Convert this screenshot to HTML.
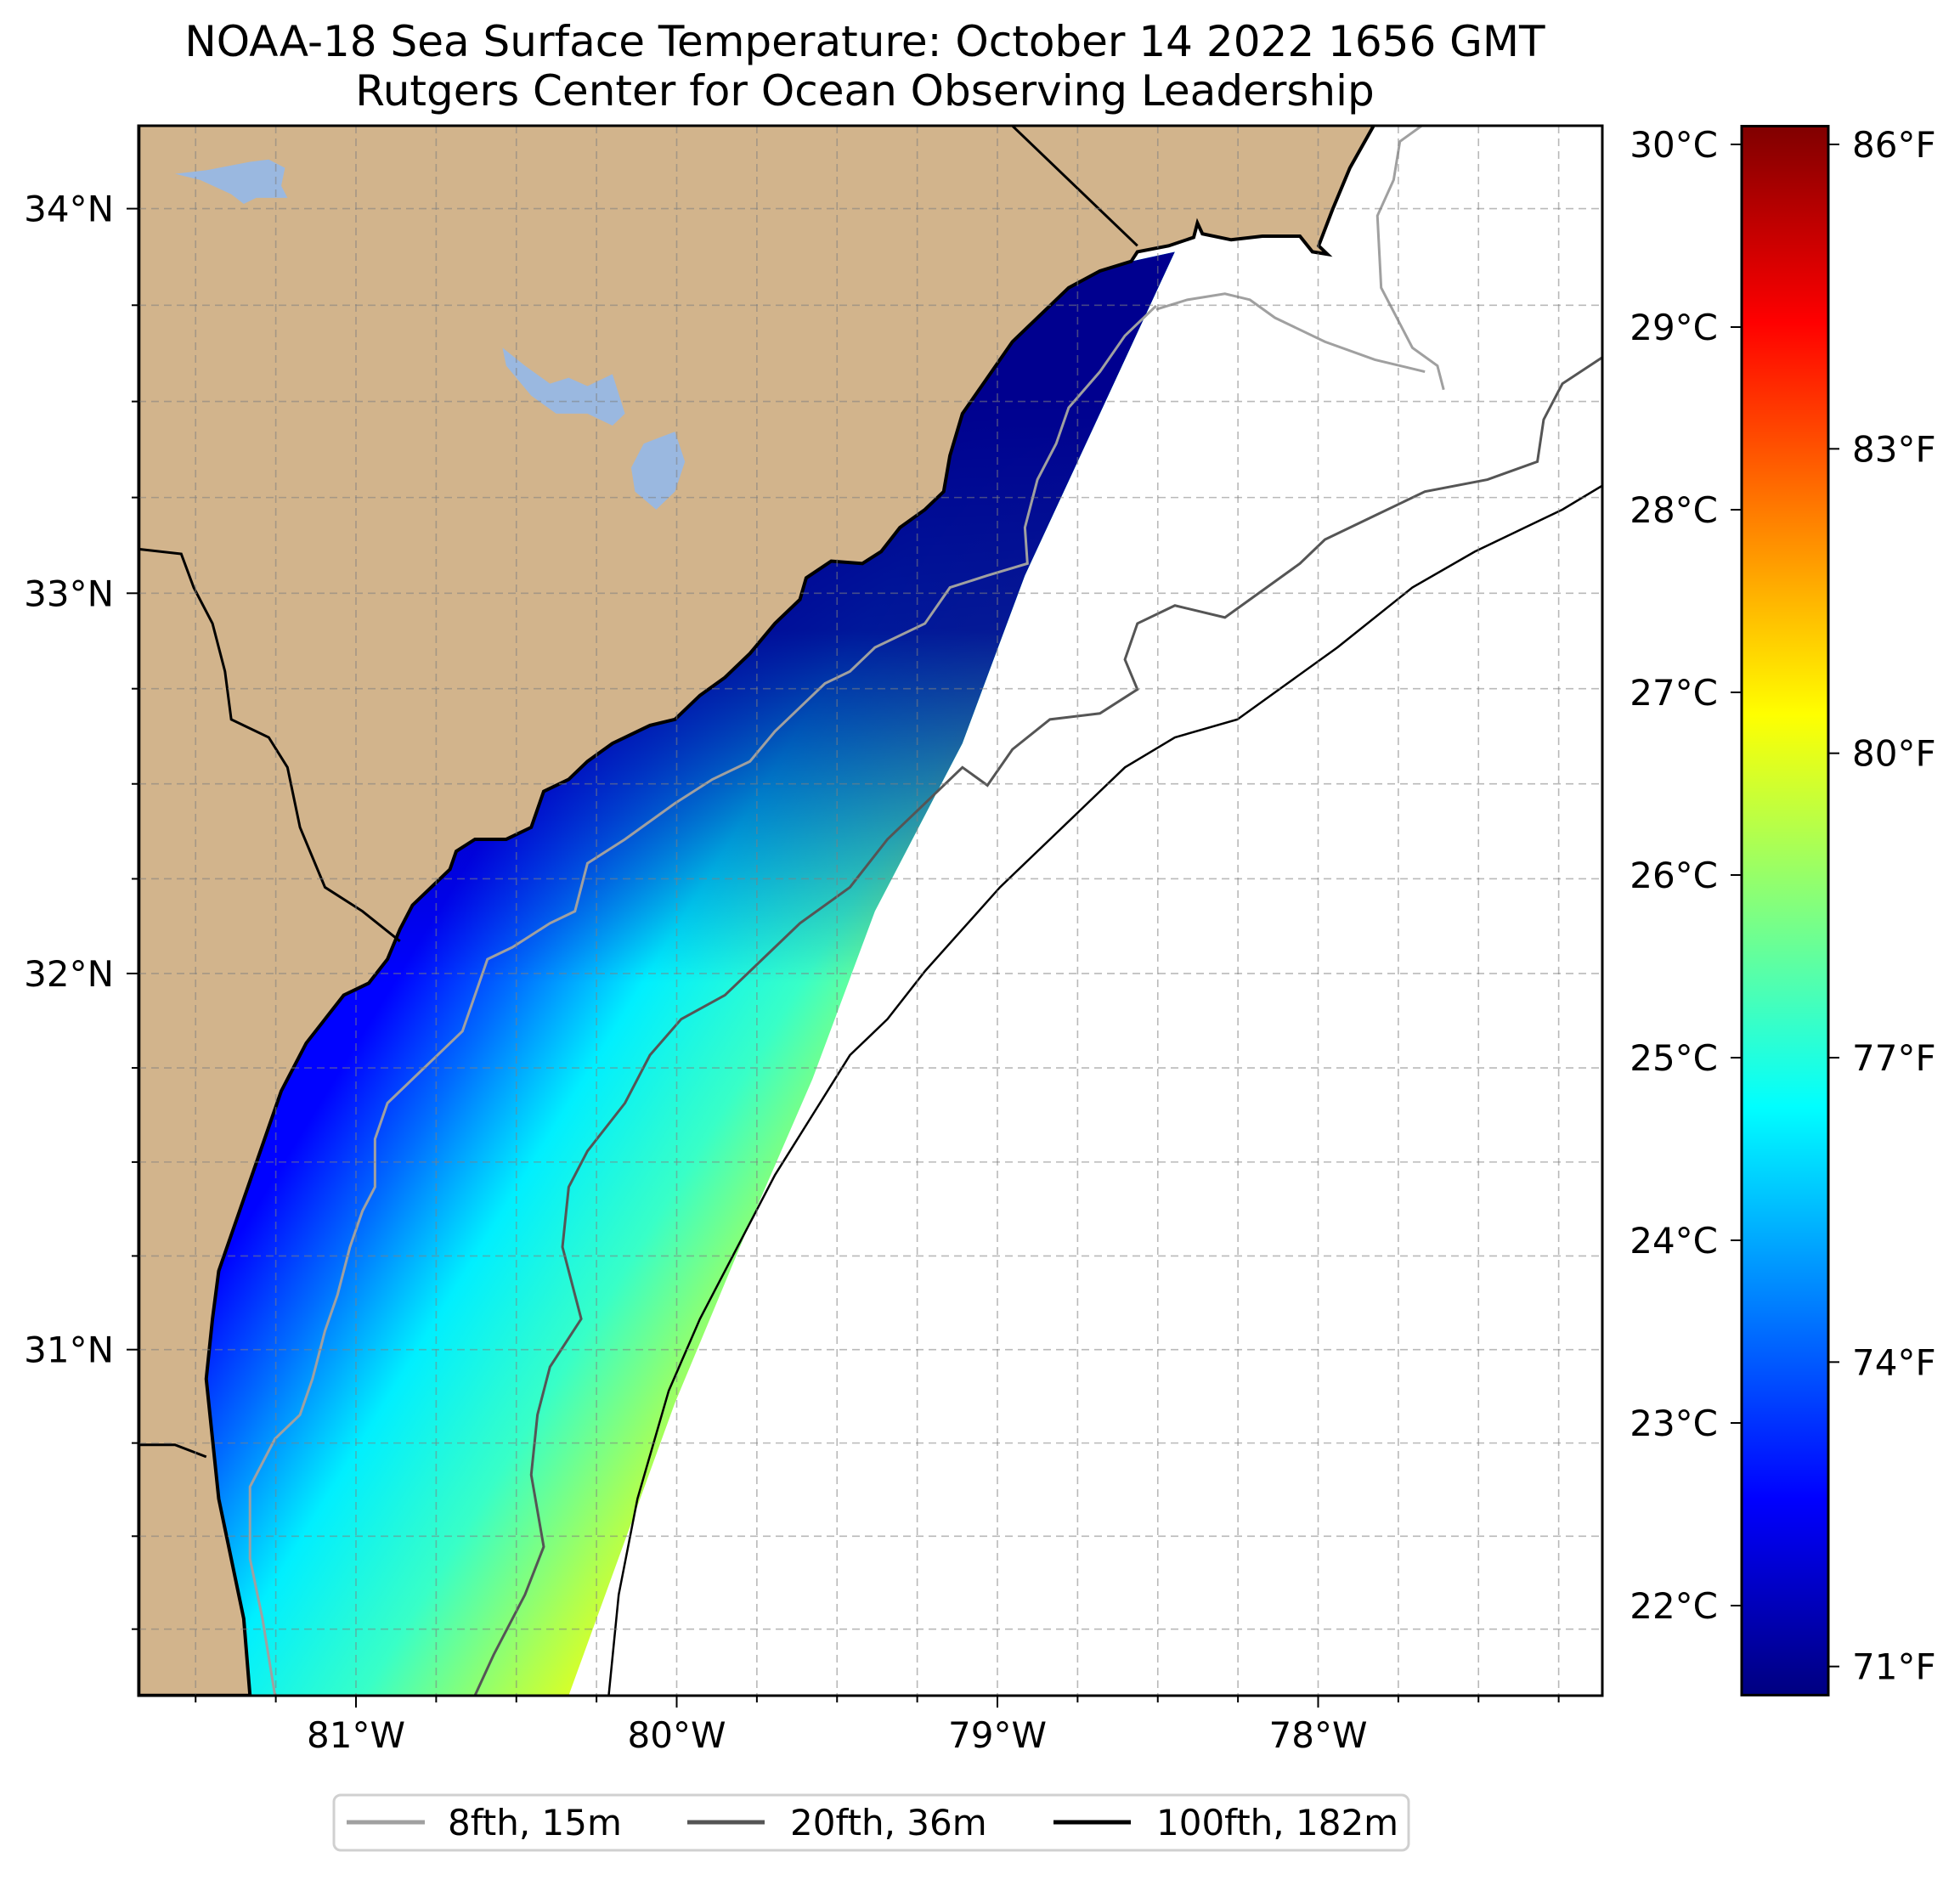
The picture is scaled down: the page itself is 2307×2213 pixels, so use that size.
<!DOCTYPE html>
<html><head><meta charset="utf-8"><style>
html,body{margin:0;padding:0;background:#fff;}
svg{display:block;font-family:"DejaVu Sans","Liberation Sans",sans-serif;}
</style></head><body>
<svg id="fig" width="2307" height="2213" viewBox="0 0 2307 2213" xmlns="http://www.w3.org/2000/svg">
<defs>
<clipPath id="axclip"><rect x="163" y="148" width="1723" height="1848"/></clipPath>
<linearGradient id="cbgrad" x1="0" y1="1" x2="0" y2="0"></linearGradient>
<linearGradient id="across" gradientUnits="userSpaceOnUse" x1="250" y1="930" x2="640" y2="1160"></linearGradient>
<linearGradient id="north" gradientUnits="userSpaceOnUse" x1="0" y1="330" x2="0" y2="820">
<stop offset="0" stop-color="#00008f" stop-opacity="1"/>
<stop offset="0.4" stop-color="#00008f" stop-opacity="0.9"/>
<stop offset="1" stop-color="#00008f" stop-opacity="0"/>
</linearGradient>
</defs>
<g id="title">
<text x="1018" y="66" font-size="50" text-anchor="middle">NOAA-18 Sea Surface Temperature: October 14 2022 1656 GMT</text>
<text x="1018" y="124" font-size="50" text-anchor="middle">Rutgers Center for Ocean Observing Leadership</text>
</g>
<g clip-path="url(#axclip)">
<g id="mapdisp" transform="scale(1.4712,1.4114)"></g>
<g id="grid"></g>
</g>
<rect x="163" y="148" width="1723" height="1848" fill="none" stroke="#000" stroke-width="3"/>
<g id="axes"></g>
<g id="cbar"></g>
<g id="legend">
<rect x="393" y="2113" width="1265" height="65" rx="8" fill="#fff" stroke="#d0d0d0" stroke-width="3"/>
<line x1="408" y1="2145" x2="500" y2="2145" stroke="#a0a0a0" stroke-width="5"/>
<text x="527" y="2160" font-size="42">8fth, 15m</text>
<line x1="809" y1="2145" x2="900" y2="2145" stroke="#555" stroke-width="5"/>
<text x="930" y="2160" font-size="42">20fth, 36m</text>
<line x1="1240" y1="2145" x2="1331" y2="2145" stroke="#000" stroke-width="5"/>
<text x="1361" y="2160" font-size="42">100fth, 182m</text>
</g>
</svg>
<script>
// ---- data ----
const lonTicks = [-81, -80, -79, -78];
const lonTickLabels = ["81°W", "80°W", "79°W", "78°W"];
const latTicks = [31, 32, 33, 34];
const latTickLabels = ["31°N", "32°N", "33°N", "34°N"];
const cTicks = [22, 23, 24, 25, 26, 27, 28, 29, 30];
const fTicks = [71, 74, 77, 80, 83, 86];
const tempMin = 21.51, tempMax = 30.1;
const sstStops = [0, 0.18, 0.38, 0.62, 0.85, 1];
const sstValues = [22.6, 23.5, 24.6, 25.2, 26.2, 26.8];

// ---- map geometry (display units) ----
const landPoly = [[111,103],[1100,103],[1080,140],[1066,175],[1055,205],[1062,212],[1050,210],[1040,197],[1010,197],[985,200],[962,195],[958,186],[955,198],[935,205],[910,210],[905,218],[880,226],[855,240],[830,265],[810,285],[790,315],[770,345],[760,380],[755,410],[740,425],[720,440],[705,460],[690,470],[665,468],[645,482],[640,500],[620,520],[600,545],[580,565],[560,580],[540,600],[520,605],[490,620],[470,635],[455,650],[435,660],[425,690],[405,700],[380,700],[365,710],[360,725],[345,740],[330,755],[320,775],[310,800],[295,820],[275,830],[260,850],[245,870],[235,890],[225,910],[215,940],[205,970],[195,1000],[185,1030],[175,1060],[170,1100],[165,1150],[170,1200],[175,1250],[185,1300],[195,1350],[200,1414],[111,1414]];
const swathEdge = [[200,1414],[455,1414],[540,1170],[600,1020],[650,900],[700,760],[770,620],[820,480],[860,390],[940,210],[905,218]];
const lakes = [
 [[140,145],[165,142],[185,138],[200,135],[215,133],[228,140],[225,155],[230,165],[205,165],[195,170],[185,162],[160,150]],
 [[402,290],[420,305],[440,320],[455,315],[470,322],[490,312],[500,345],[490,355],[470,345],[445,345],[425,330],[405,305]],
 [[515,370],[540,360],[548,385],[540,410],[525,425],[508,410],[505,390]]
];
const stateBorders = [
 [[808,103],[910,205]],
 [[111,458],[145,462],[155,490],[170,520],[180,560],[185,600],[215,615],[230,640],[240,690],[260,740],[290,760],[320,785]],
 [[111,1205],[140,1205],[165,1215]]
];
const iso8 = [
 [[1140,103],[1120,118],[1115,150],[1102,180],[1105,240],[1130,290],[1150,305],[1155,325]],
 [[925,258],[950,250],[980,245],[1000,250],[1020,265],[1060,285],[1100,300],[1140,310]],
 [[925,255],[900,280],[880,310],[855,340],[845,370],[830,400],[820,440],[822,470],[790,480],[760,490],[740,520],[700,540],[680,560],[660,570],[640,590],[620,610],[600,635],[570,650],[540,670],[500,700],[470,720],[460,760],[440,770],[410,790],[390,800],[380,830],[370,860],[350,880],[330,900],[310,920],[300,950],[300,990],[290,1010],[280,1040],[270,1080],[260,1110],[250,1150],[240,1180],[220,1200],[200,1240],[200,1300],[210,1350],[220,1414]]
];
const iso20 = [[1282,298],[1250,320],[1235,350],[1230,385],[1190,400],[1140,410],[1100,430],[1060,450],[1040,470],[980,515],[940,505],[910,520],[900,550],[910,575],[880,595],[840,600],[810,625],[790,655],[770,640],[750,660],[710,700],[680,740],[640,770],[610,800],[580,830],[545,850],[520,880],[500,920],[470,960],[455,990],[450,1040],[465,1100],[440,1140],[430,1180],[425,1230],[435,1290],[420,1330],[395,1380],[380,1414]];
const iso100 = [[1282,405],[1250,425],[1220,440],[1180,460],[1130,490],[1070,540],[1030,570],[990,600],[940,615],[900,640],[870,670],[840,700],[800,740],[770,775],[740,810],[710,850],[680,880],[650,930],[620,980],[590,1040],[560,1100],[535,1160],[510,1250],[495,1330],[487,1414]];

// ---- scales ----
function X(lon){ return 419 + (lon + 81) * 377.5; }
function M(lat){ return Math.log(Math.tan(Math.PI/4 + lat*Math.PI/360)) * 180/Math.PI; }
function Y(lat){ return 245.6 - 377.5 * (M(lat) - M(34)); }
function Yc(t){ return 170 + (30 - t) * 215; }
function jet(v){
  const c = x => Math.max(0, Math.min(1, x));
  const r = c(1.5 - Math.abs(4*v - 3)), g = c(1.5 - Math.abs(4*v - 2)), b = c(1.5 - Math.abs(4*v - 1));
  return `rgb(${Math.round(r*255)},${Math.round(g*255)},${Math.round(b*255)})`;
}
function tcol(t){ return jet((t - tempMin)/(tempMax - tempMin)); }

const NS = "http://www.w3.org/2000/svg";
function mk(tag, attrs, parent){ const e = document.createElementNS(NS, tag); for (const k in attrs) e.setAttribute(k, attrs[k]); parent.appendChild(e); return e; }
const pts = a => a.map(p => p.join(",")).join(" ");

const cbg = document.getElementById("cbgrad");
for (let i = 0; i <= 40; i++){ mk("stop", {offset: i/40, "stop-color": jet(i/40)}, cbg); }
const acr = document.getElementById("across");
sstStops.forEach((o, i) => mk("stop", {offset: o, "stop-color": tcol(sstValues[i])}, acr));

const md = document.getElementById("mapdisp");
const coastPart = landPoly.slice(landPoly.findIndex(p => p[0]===880 && p[1]===226), landPoly.length - 1);
const swathPts = coastPart.concat(swathEdge.slice(1));
let sw = mk("polygon", {points: pts(swathPts), fill: "url(#across)"}, md);


const cp = mk("clipPath", {id: "swclip"}, md);
mk("polygon", {points: pts(swathPts)}, cp);
let nb = mk("polygon", {points: pts(swathPts), fill: "url(#north)", "clip-path": "url(#swclip)"}, md);



let land = mk("polygon", {points: pts(landPoly), fill: "#d2b48c", stroke: "#000", "stroke-width": 4, "vector-effect": "non-scaling-stroke"}, md);


lakes.forEach(l => { let e = mk("polygon", {points: pts(l), fill: "#9ab8e0"}, md);
  
   });
stateBorders.forEach(b => { let e = mk("polyline", {points: pts(b), fill: "none", stroke: "#000", "stroke-width": 3, "vector-effect": "non-scaling-stroke"}, md);
  
   });
iso8.forEach(c => { let e = mk("polyline", {points: pts(c), fill: "none", stroke: "#a0a0a0", "stroke-width": 3, "vector-effect": "non-scaling-stroke"}, md);
  
   });
let i20 = mk("polyline", {points: pts(iso20), fill: "none", stroke: "#555", "stroke-width": 3, "vector-effect": "non-scaling-stroke"}, md);


let i100 = mk("polyline", {points: pts(iso100), fill: "none", stroke: "#000", "stroke-width": 2.5, "vector-effect": "non-scaling-stroke"}, md);



const grid = document.getElementById("grid");
for (let lon = -81.5; lon <= -77.2; lon += 0.25){
  let e = mk("line", {x1: X(lon), x2: X(lon), y1: 148, y2: 1996, stroke: "#808080", "stroke-opacity": 0.55, "stroke-width": 1.6, "stroke-dasharray": "9,6"}, grid);
  
  
}
for (let lat = 30.25; lat <= 34.2; lat += 0.25){
  let e = mk("line", {x1: 163, x2: 1886, y1: Y(lat), y2: Y(lat), stroke: "#808080", "stroke-opacity": 0.55, "stroke-width": 1.6, "stroke-dasharray": "9,6"}, grid);
  
  
}

const ax = document.getElementById("axes");
for (let lon = -81.5; lon <= -77.2; lon += 0.25){
  const major = Math.abs(lon - Math.round(lon)) < 1e-6;
  mk("line", {x1: X(lon), x2: X(lon), y1: 1996, y2: 1996 + (major ? 14 : 8), stroke: "#000", "stroke-width": 2}, ax);
}
lonTicks.forEach((lon, i) => { let t = mk("text", {x: X(lon), y: 2057, "font-size": 42, "text-anchor": "middle"}, ax); t.textContent = lonTickLabels[i];
  
   });
for (let lat = 30.25; lat <= 34.2; lat += 0.25){
  const major = Math.abs(lat - Math.round(lat)) < 1e-6;
  mk("line", {x1: 163 - (major ? 14 : 8), x2: 163, y1: Y(lat), y2: Y(lat), stroke: "#000", "stroke-width": 2}, ax);
}
latTicks.forEach((lat, i) => { let t = mk("text", {x: 134, y: Y(lat) + 15, "font-size": 42, "text-anchor": "end"}, ax); t.textContent = latTickLabels[i];
  
   });

const cb = document.getElementById("cbar");
let cbr = mk("rect", {x: 2050, y: Yc(tempMax), width: 102, height: Yc(tempMin) - Yc(tempMax), fill: "url(#cbgrad)", stroke: "#000", "stroke-width": 3}, cb);


cTicks.forEach(c => {
  mk("line", {x1: 2037, x2: 2050, y1: Yc(c), y2: Yc(c), stroke: "#000", "stroke-width": 2}, cb);
  let t = mk("text", {x: 2022, y: Yc(c) + 15, "font-size": 42, "text-anchor": "end"}, cb); t.textContent = c + "°C";
  
  
});
fTicks.forEach(f => {
  const c = (f - 32) * 5/9;
  mk("line", {x1: 2152, x2: 2165, y1: Yc(c), y2: Yc(c), stroke: "#000", "stroke-width": 2}, cb);
  let t = mk("text", {x: 2180, y: Yc(c) + 15, "font-size": 42}, cb); t.textContent = f + "°F";
  
  
});
</script>
</body></html>
